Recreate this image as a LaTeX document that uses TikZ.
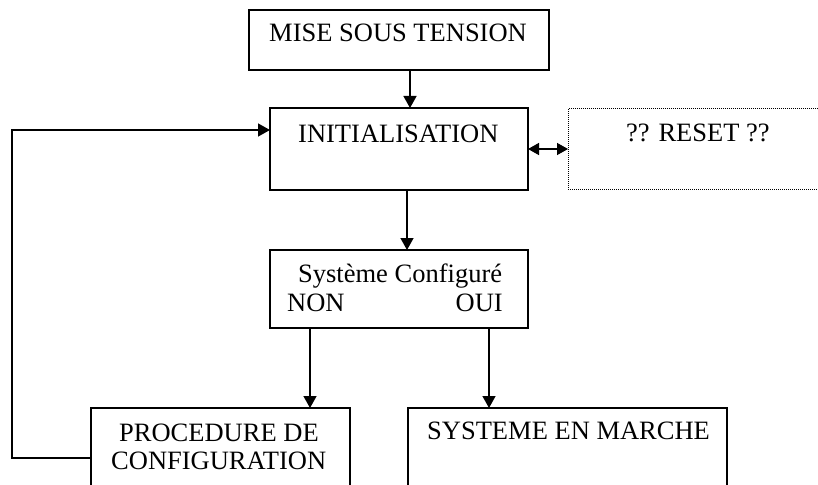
\documentclass[tikz,border=0pt]{standalone}
\usepackage{fontspec}
\setmainfont{Liberation Serif}
\usetikzlibrary{arrows.meta}
\begin{document}
\begin{tikzpicture}[x=1pt,y=-1pt,
  box/.style={draw, line width=1.4pt, rectangle, inner sep=0pt, outer sep=0pt, anchor=north west},
  dotbox/.style={box, line width=1pt, dash pattern=on 1pt off 1pt},
  lbl/.style={inner sep=0pt, anchor=base west, font=\fontsize{26.5}{30}\selectfont},
  arr/.style={line width=1.4pt, -{Triangle[length=12pt,width=13pt]}},
  darr/.style={line width=1.4pt, {Triangle[length=11pt,width=12pt]}-{Triangle[length=11pt,width=12pt]}},
]
\clip (0,0) rectangle (818,484);
\fill[white] (0,0) rectangle (818,484);
% boxes
\node[box, minimum width=300pt, minimum height=60pt] (mise) at (249,10) {};
\node[box, minimum width=258pt, minimum height=82pt] (init) at (270,108) {};
\node[dotbox, minimum width=270pt, minimum height=80pt] (reset) at (568,109) {};
\node[box, minimum width=258pt, minimum height=78pt] (sys) at (270,250) {};
\node[box, minimum width=259pt, minimum height=120pt] (proc) at (91,408) {};
\node[box, minimum width=319pt, minimum height=120pt] (run) at (408,408) {};
% texts
\node[lbl] (tmise) at (269,42) {MISE SOUS TENSION};
\node[lbl] (tinit) at (298,142) {INITIALISATION};
\node[lbl] (treset) at (626,141) {?? RESET ??};
\node[lbl] (tsys) at (298,282) {Système Configuré};
\node[lbl] (tnon) at (287,311) {NON};
\node[lbl, anchor=base east] (toui) at (503,311) {OUI};
\node[lbl] (tproc1) at (119,441) {PROCEDURE DE};
\node[lbl] (tproc2) at (111,469) {CONFIGURATION};
\node[lbl] (trun) at (427,439) {SYSTEME EN MARCHE};
% connectors
\draw[arr] ([xshift=11pt]mise.south) -- ([xshift=11pt]mise.south |- init.north);
\draw[arr] ([xshift=8pt]init.south) -- ([xshift=8pt]init.south |- sys.north);
\draw[darr] (init.east) -- (reset.west);
\draw[arr] ([xshift=-89pt]sys.south) -- ([xshift=-89pt]sys.south |- proc.north);
\draw[arr] ([xshift=90pt]sys.south) -- ([xshift=90pt]sys.south |- run.north);
\coordinate (lp) at (12,130);
\draw[arr] ([yshift=10pt]proc.west) -| (lp) -- (lp -| init.west);
\end{tikzpicture}
\end{document}
